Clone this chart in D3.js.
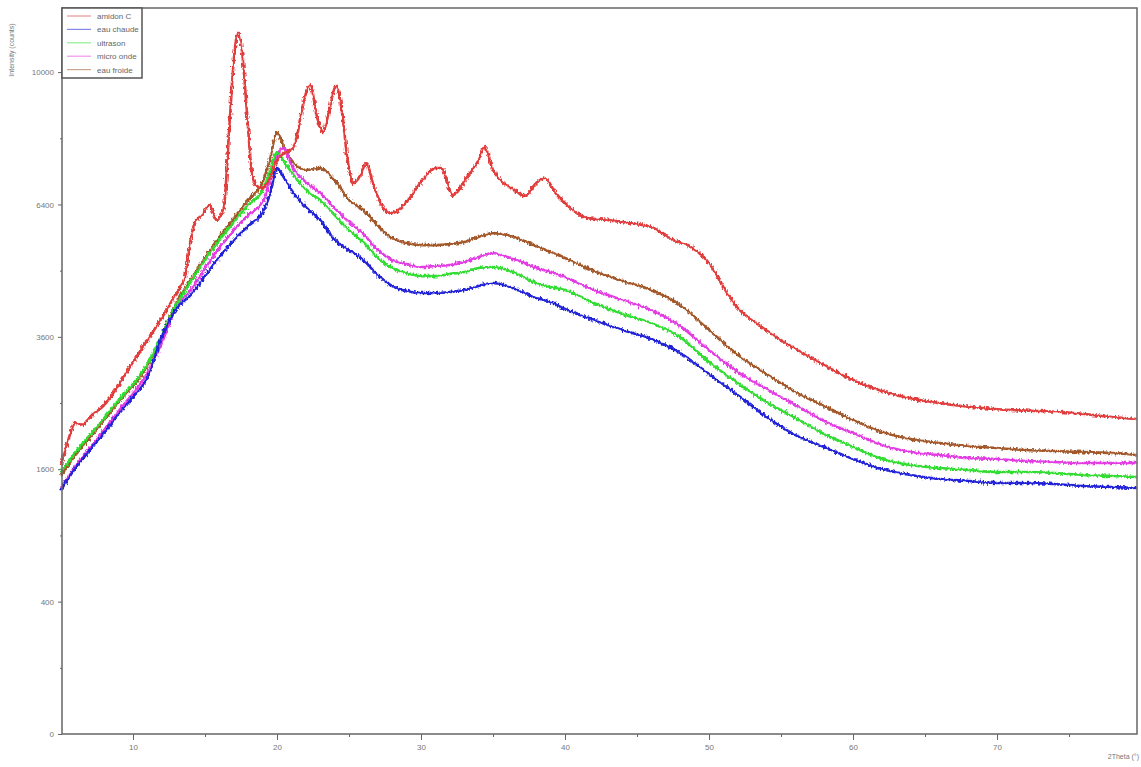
<!DOCTYPE html>
<html>
<head>
<meta charset="utf-8">
<script src="https://cdn.jsdelivr.net/npm/d3@7/dist/d3.min.js"></script>
<style>
  html, body { margin: 0; padding: 0; background: #fff; }
  svg { display: block; font-family: "Liberation Sans", Arial, sans-serif; }
  .axis path, .axis line { stroke: #666; }
  .axis text { fill: #777; font-size: 8px; }
</style>
</head>
<body>
<svg id="chart" width="1141" height="767"></svg>
<script>
(function() {

  // 2theta grid shared by the four treated samples
  var theta = [5, 6, 7, 8, 9, 10, 11, 12, 13, 14, 15, 16, 17, 18, 19, 19.5, 20, 20.5, 21,
    22, 23, 24, 25, 26, 27, 28, 29, 30, 31, 32, 33, 34, 35, 36, 37, 38, 39, 40,
    42, 44, 46, 48, 50, 52, 54, 56, 58, 60, 62, 64, 66, 68, 70, 72, 74, 76, 78, 79.7];

  var eauChaude = [1359, 1614, 1840, 2067, 2337, 2591, 2892, 3596, 4122, 4397, 4786, 5192, 5569, 5889, 6218, 6629, 7310, 7054, 6753,
    6337, 6028, 5569, 5345, 5127, 4807, 4580, 4478, 4438, 4438, 4458, 4498, 4580, 4641, 4580, 4458, 4338, 4259, 4122,
    3911, 3724, 3560, 3312, 2957, 2622, 2293, 2040, 1880, 1726, 1602, 1531, 1484, 1461, 1438, 1438, 1426, 1403, 1392, 1381];

  var ultrason = [1566, 1814, 2040, 2279, 2546, 2795, 3124, 3633, 4199, 4662, 5127, 5569, 5982, 6386, 6753, 7207, 7729, 7466, 7207,
    6753, 6507, 6146, 5796, 5523, 5170, 4955, 4849, 4786, 4786, 4829, 4871, 4955, 4977, 4913, 4786, 4641, 4559, 4498,
    4239, 4025, 3854, 3596, 3158, 2811, 2515, 2279, 2054, 1880, 1726, 1651, 1614, 1590, 1566, 1566, 1554, 1531, 1519, 1507];

  var microOnde = [1381, 1639, 1866, 2109, 2380, 2653, 2974, 3488, 4160, 4498, 4955, 5390, 5796, 6146, 6458, 7004, 7650, 7836, 7388,
    6953, 6678, 6313, 5982, 5705, 5345, 5127, 5041, 4977, 4998, 5019, 5084, 5192, 5279, 5192, 5084, 4955, 4871, 4766,
    4498, 4298, 4102, 3798, 3365, 2990, 2716, 2470, 2235, 2067, 1906, 1814, 1776, 1738, 1726, 1701, 1688, 1676, 1676, 1676];

  var eauFroide = [1519, 1776, 1999, 2250, 2515, 2764, 3090, 3614, 4239, 4703, 5170, 5637, 6076, 6507, 6953, 7518, 8270, 7836, 7518,
    7259, 7310, 7004, 6507, 6265, 5889, 5613, 5501, 5456, 5456, 5479, 5523, 5637, 5727, 5682, 5569, 5434, 5301, 5170,
    4892, 4683, 4498, 4199, 3724, 3278, 2957, 2669, 2455, 2250, 2081, 1986, 1932, 1893, 1866, 1840, 1827, 1814, 1802, 1776];

  // native starch has its own, denser grid around the crystalline peaks
  var amidonTheta = [5, 5.5, 6, 6.5, 7, 8, 9, 10, 11, 12, 13, 13.6, 14, 14.3, 14.8, 15.3, 15.8, 16.3, 16.7, 17, 17.3, 17.6,
    17.9, 18.2, 18.5, 19, 19.5, 20, 20.5, 21, 21.4, 21.8, 22.3, 22.8, 23.2, 23.6, 24.1, 24.5, 24.9, 25.3, 25.8, 26.2,
    26.7, 27.5, 28, 29, 30, 31, 31.4, 32.2, 33.2, 34, 34.4, 35, 35.5, 36.5, 37.2, 38, 38.6, 39.3, 40, 41.5, 43, 44.5,
    46, 47.5, 48.5, 50, 51, 52, 53, 55, 57, 59, 61, 63, 65, 67, 69, 71, 73, 74.5, 76, 78, 79.7];

  var amidonC = [1651, 1972, 2207, 2179, 2293, 2470, 2779, 3158, 3542, 3949, 4438, 4745, 5569, 5982, 6146, 6386, 6028, 6313,
    8463, 10366, 11245, 10520, 8885, 7388, 6878, 6803, 7054, 7518, 7702, 7782, 8187, 9028, 9611, 8659, 8270, 8828, 9582,
    8885, 7518, 6928, 7130, 7440, 6878, 6265, 6194, 6458, 6953, 7310, 7310, 6629, 7080, 7518, 7863, 7259, 7004, 6753,
    6605, 6928, 7054, 6703, 6434, 6076, 6028, 5958, 5865, 5569, 5456, 5062, 4559, 4141, 3911, 3542, 3243, 2974, 2764,
    2622, 2530, 2470, 2425, 2395, 2380, 2366, 2337, 2293, 2264];

  var seriesNames = ['amidon C', 'eau chaude', 'ultrason', 'micro onde', 'eau froide'];
  var seriesColors = ['#e23c3c', '#2424d8', '#33dd33', '#e23de2', '#a3582c'];

  var xMajor = [10, 20, 30, 40, 50, 60, 70];
  var xMinor = [15, 25, 35, 45, 55, 65, 75];
  var yMajor = [0, 400, 1600, 3600, 6400, 10000];
  var yMinor = [100, 900, 2500, 4900, 8100];

  var left = 62, right = 1137, top = 8, bottom = 734;

  var svg = d3.select('#chart');

  var x = d3.scaleLinear().domain([5, 79.72]).range([left - 1, right]);
  var y = d3.scaleSqrt().domain([0, 12030]).range([bottom, top]);

  addNoiseFilter();
  drawAxes();

  var series = [
    { x: amidonTheta, y: amidonC },
    { x: theta, y: eauChaude },
    { x: theta, y: ultrason },
    { x: theta, y: microOnde },
    { x: theta, y: eauFroide }
  ];

  // red on top, brown behind the purple/green/blue band
  [4, 3, 2, 1, 0].forEach(function(i) {
    drawSeries(series[i], seriesColors[i]);
  });

  drawFrame();
  drawLegend();
  addTitles();

  function addNoiseFilter() {
    var f = svg.append('defs').append('filter')
      .attr('id', 'jitter')
      .attr('x', '-2%').attr('y', '-5%')
      .attr('width', '104%').attr('height', '110%');
    f.append('feTurbulence')
      .attr('type', 'fractalNoise')
      .attr('baseFrequency', '0.6 0.25')
      .attr('numOctaves', 2)
      .attr('seed', 3)
      .attr('result', 'n');
    f.append('feDisplacementMap')
      .attr('in', 'SourceGraphic')
      .attr('in2', 'n')
      .attr('scale', 5)
      .attr('xChannelSelector', 'R')
      .attr('yChannelSelector', 'G');
  }

  function drawSeries(s, color) {
    var pts = s.x.map(function(t, i) { return [t, s.y[i]]; });
    var line = d3.line()
      .x(function(d) { return x(d[0]); })
      .y(function(d) { return y(d[1]); })
      .curve(d3.curveMonotoneX);

    var g = svg.append('g');
    g.append('path')
      .datum(pts)
      .attr('d', line)
      .attr('fill', 'none')
      .attr('stroke', color)
      .attr('stroke-opacity', 0.8)
      .attr('stroke-width', 1.3);
    g.append('path')
      .datum(pts)
      .attr('d', line)
      .attr('fill', 'none')
      .attr('stroke', color)
      .attr('stroke-width', 2.6)
      .attr('stroke-linejoin', 'round')
      .attr('filter', 'url(#jitter)');
  }

  function drawAxes() {
    svg.append('g')
      .attr('class', 'axis')
      .attr('transform', 'translate(0,' + bottom + ')')
      .call(d3.axisBottom(x).tickValues(xMajor).tickSize(6).tickPadding(4).tickFormat(d3.format('d')))
      .call(function(g) { g.select('.domain').remove(); });

    svg.append('g')
      .attr('class', 'axis')
      .attr('transform', 'translate(0,' + bottom + ')')
      .call(d3.axisBottom(x).tickValues(xMinor).tickSize(3).tickFormat(''))
      .call(function(g) { g.select('.domain').remove(); });

    svg.append('g')
      .attr('class', 'axis')
      .attr('transform', 'translate(' + left + ',0)')
      .call(d3.axisLeft(y).tickValues(yMajor).tickSize(4).tickPadding(4).tickFormat(d3.format('d')))
      .call(function(g) { g.select('.domain').remove(); });

    svg.append('g')
      .attr('class', 'axis')
      .attr('transform', 'translate(' + left + ',0)')
      .call(d3.axisLeft(y).tickValues(yMinor).tickSize(2).tickFormat(''))
      .call(function(g) { g.select('.domain').remove(); });
  }

  function drawFrame() {
    svg.append('rect')
      .attr('x', left)
      .attr('y', top)
      .attr('width', right - left)
      .attr('height', bottom - top)
      .attr('fill', 'none')
      .attr('stroke', '#666')
      .attr('stroke-width', 1.5);
  }

  function drawLegend() {
    var g = svg.append('g').attr('transform', 'translate(' + left + ',' + top + ')');

    g.append('rect')
      .attr('width', 80)
      .attr('height', 70)
      .attr('fill', '#fff')
      .attr('stroke', '#555')
      .attr('stroke-width', 1.5);

    seriesNames.forEach(function(name, i) {
      var ry = 8 + i * 13.4;
      g.append('line')
        .attr('x1', 5).attr('x2', 29)
        .attr('y1', ry).attr('y2', ry)
        .attr('stroke', seriesColors[i])
        .attr('stroke-opacity', 0.55)
        .attr('stroke-width', 1.2);
      g.append('text')
        .attr('x', 35)
        .attr('y', ry + 3)
        .style('font-size', '8px')
        .style('fill', '#666')
        .text(name);
    });
  }

  function addTitles() {
    svg.append('text')
      .attr('transform', 'translate(14,50) rotate(-90)')
      .attr('text-anchor', 'middle')
      .style('font-size', '7px')
      .style('fill', '#777')
      .text('Intensity (counts)');

    svg.append('text')
      .attr('x', 1139)
      .attr('y', 759)
      .attr('text-anchor', 'end')
      .style('font-size', '7px')
      .style('fill', '#777')
      .text('2Theta (°)');
  }
})();
</script>
</body>
</html>
